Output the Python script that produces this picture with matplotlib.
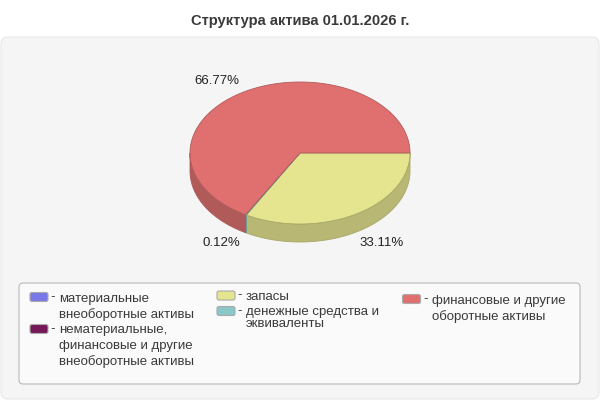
import numpy as np
import matplotlib
matplotlib.use("Agg")
import matplotlib.pyplot as plt
from matplotlib.patches import FancyBboxPatch, Polygon

# Data
categories = ["запасы", "денежные средства и\nэквиваленты", "финансовые и другие\nоборотные активы"]
values = [33.11, 0.12, 66.77]
value_labels = ["33.11%", "0.12%", "66.77%"]
top_colors = ["#E5E58F", "#8AC7C7", "#E07070"]
side_colors = ["#B8B874", "#6FA0A0", "#B05A5A"]
edge_colors = ["#A8A868", "#5F9A9A", "#B05A5A"]

title = "Структура актива 01.01.2026 г."

plt.rcParams["font.family"] = ["Liberation Sans", "DejaVu Sans"]

fig = plt.figure(figsize=(6, 4), dpi=100, facecolor="white")

# One axes in pixel units, y going down
ax = fig.add_axes([0, 0, 1, 1])
ax.set_xlim(0, 600)
ax.set_ylim(400, 0)
ax.axis("off")

TEXT = "#3A3A3A"

# Outer panel
ax.add_patch(FancyBboxPatch((6, 42), 588, 352, boxstyle="round,pad=5,rounding_size=7",
                            facecolor="#F5F5F5", edgecolor="#E8E8E8", linewidth=0.8))

ax.text(300, 20.5, title, ha="center", va="center", fontsize=10.6,
        fontweight="bold", color=TEXT)

# Pie geometry
cx, cy = 300, 153
rx, ry = 110, 71
depth = 18


def arc(a0, a1):
    t = np.radians(np.linspace(a0, a1, max(int(a1 - a0) * 2, 2)))
    return np.column_stack([cx + rx * np.cos(t), cy + ry * np.sin(t)])


ends = np.cumsum(values) / np.sum(values) * 360
starts = ends - np.array(values) / np.sum(values) * 360

# Side wall: only the front half of the ellipse is visible
for a0, a1, side, edge in zip(starts, ends, side_colors, edge_colors):
    s0, s1 = max(a0, 0), min(a1, 180)
    if s1 > s0:
        front = arc(s0, s1)
        lower = front[::-1] + [0, depth]
        ax.add_patch(Polygon(np.vstack([front, lower]), closed=True,
                             facecolor=side, edgecolor=edge, linewidth=0.6, zorder=2))

# Top face
for a0, a1, top, edge in zip(starts, ends, top_colors, edge_colors):
    pts = np.vstack([[cx, cy], arc(a0, a1)])
    ax.add_patch(Polygon(pts, closed=True, facecolor=top, edgecolor=edge,
                         linewidth=0.6, zorder=3))

# Value labels
ax.text(381.5, 242.5, value_labels[0], ha="center", va="center", fontsize=9.5, color="#222222")
ax.text(221, 243.5, value_labels[1], ha="center", va="center", fontsize=9.5, color="#222222")
ax.text(217, 81.5, value_labels[2], ha="center", va="center", fontsize=9.5, color="#222222")

# Legend box
ax.add_patch(FancyBboxPatch((23, 287), 553, 93, boxstyle="round,pad=4,rounding_size=4",
                            facecolor="#FAFAFA", edgecolor="#B0B0B0", linewidth=0.7))


def legend_swatch(x, y, color):
    ax.add_patch(FancyBboxPatch((x + 2, y - 2.5), 14, 5, boxstyle="round,pad=2,rounding_size=2",
                                facecolor=color, edgecolor="#AAAAAA", linewidth=0.8, zorder=4))
    ax.text(x + 23, y, "-", ha="center", va="center", fontsize=9.5, color=TEXT)


def legend_lines(x, lines):
    for text_y, line in lines:
        ax.text(x, text_y + 0.7, line, ha="left", va="center", fontsize=9.5, color=TEXT)


legend_swatch(30, 297, "#7878E8")
legend_lines(59, [(298, "материальные"), (314, "внеоборотные активы")])
legend_swatch(30, 329, "#761858")
legend_lines(59, [(329, "нематериальные,"), (345, "финансовые и другие"),
                  (361, "внеоборотные активы")])

cat1 = categories[1].split("\n")
cat2 = categories[2].split("\n")
legend_swatch(217, 295.5, top_colors[0])
legend_lines(246, [(296, categories[0])])
legend_swatch(217, 311, top_colors[1])
legend_lines(246, [(311, cat1[0]), (323, cat1[1])])
legend_swatch(402.5, 299, top_colors[2])
legend_lines(432, [(300, cat2[0]), (316, cat2[1])])

fig.savefig("out.png", dpi=100)
